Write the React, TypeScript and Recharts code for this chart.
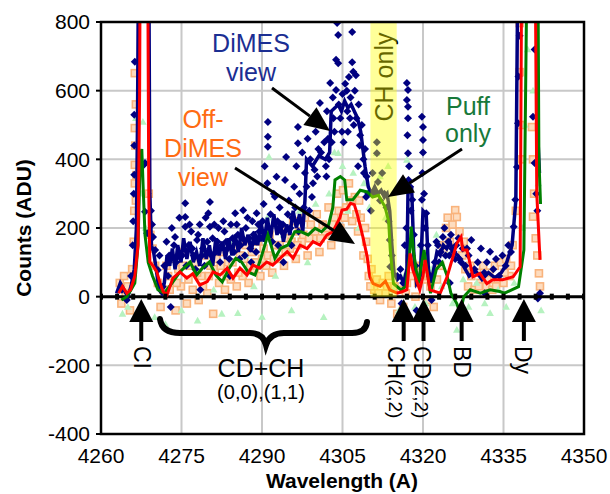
import React from "react";
import { CartesianGrid, ComposedChart, Line, Scatter, XAxis, YAxis } from "recharts";

const FONT = "'Liberation Sans', Arial, Helvetica, sans-serif";

const WAVE_TICKS = [4260, 4275, 4290, 4305, 4320, 4335, 4350];
const COUNT_TICKS = [-400, -200, 0, 200, 400, 600, 800];

// markers along the zero line, every 3 A
const ZERO_MARKS = [
  4260, 4263, 4266, 4269, 4272, 4275, 4278, 4281, 4284, 4287, 4290, 4293, 4296,
  4299, 4302, 4305, 4308, 4311, 4314, 4317, 4320, 4323, 4326, 4329, 4332, 4335,
  4338, 4341, 4344, 4347, 4350,
];

// smoothed spectra: [wavelength, counts]
const DIMES_LINE: [number, number][] = [
  [4262.9, 10], [4263.6, 40], [4264.3, 20], [4265.0, 0], [4265.6, 30], [4266.2, 80],
  [4266.6, 200], [4266.8, 500], [4267.0, 1000], [4268.9, 1000], [4269.1, 300],
  [4269.4, 150], [4269.8, 130], [4270.3, 80], [4270.8, 20], [4271.3, 10], [4271.8, 40],
  [4272.3, 120], [4272.8, 90], [4273.3, 140], [4273.8, 80], [4274.3, 150], [4274.9, 100],
  [4275.4, 170], [4276.0, 110], [4276.6, 160], [4277.2, 100], [4277.8, 130], [4278.4, 90],
  [4279.0, 170], [4279.6, 110], [4280.2, 150], [4280.8, 90], [4281.4, 170], [4282.0, 120],
  [4282.6, 160], [4283.2, 110], [4283.8, 170], [4284.4, 120], [4285.0, 180], [4285.6, 130],
  [4286.2, 200], [4286.8, 150], [4287.4, 180], [4288.0, 130], [4288.6, 190], [4289.2, 150],
  [4289.8, 220], [4290.4, 160], [4291.0, 230], [4291.6, 170], [4292.2, 240], [4292.8, 180],
  [4293.4, 220], [4294.0, 160], [4294.6, 210], [4295.2, 180], [4295.8, 250], [4296.4, 200],
  [4297.0, 240], [4297.6, 190], [4298.0, 280], [4298.3, 400], [4299.4, 380], [4300.6, 410],
  [4301.8, 400], [4302.6, 420], [4302.9, 540], [4303.6, 550], [4304.2, 560], [4304.8, 540],
  [4305.4, 570], [4306.0, 550], [4306.6, 560], [4307.2, 540], [4307.8, 520], [4308.4, 480],
  [4309.2, 380], [4309.8, 320], [4310.4, 300], [4311.0, 320], [4311.6, 300], [4312.2, 310],
  [4312.8, 290], [4313.3, 300], [4313.8, 250], [4314.2, 150], [4314.6, 70], [4315.2, 50],
  [4315.8, 60], [4316.4, 40], [4317.0, 80], [4317.2, 300], [4317.9, 310], [4318.3, 120],
  [4318.8, 40], [4319.5, 60], [4320.0, 250], [4320.6, 240], [4321.0, 80], [4321.5, 40],
  [4322.0, 80], [4322.6, 130], [4323.2, 120], [4323.8, 150], [4324.4, 140], [4325.0, 160],
  [4325.6, 130], [4326.5, 120], [4327.5, 90], [4328.6, 60], [4329.8, 75], [4331.0, 50],
  [4332.2, 70], [4333.4, 55], [4334.6, 70], [4335.4, 90], [4336.6, 150], [4337.3, 280],
  [4337.7, 1000], [4341.1, 1000], [4341.3, 500], [4341.7, 360],
];

const OFF_DIMES_LINE: [number, number][] = [
  [4263.3, 10], [4264.0, 30], [4264.8, 10], [4265.5, 20], [4266.3, 60], [4266.9, 150],
  [4267.2, 600], [4267.3, 1000], [4268.7, 1000], [4268.9, 300], [4269.1, 101], [4269.7, 90],
  [4270.4, 72], [4271.0, 40], [4271.6, 14], [4272.3, 5], [4273.4, 54], [4274.7, 72],
  [4276.0, 54], [4277.1, 67], [4278.4, 34], [4279.8, 44], [4280.9, 72], [4282.2, 63],
  [4283.5, 83], [4284.6, 54], [4285.9, 83], [4287.2, 63], [4288.3, 92], [4289.6, 83],
  [4290.9, 101], [4292.0, 92], [4293.4, 112], [4294.7, 131], [4295.8, 112], [4297.1, 150],
  [4298.4, 140], [4299.5, 160], [4300.8, 150], [4302.1, 180], [4303.2, 189], [4304.5, 229],
  [4304.9, 252], [4305.8, 255], [4306.5, 272], [4307.2, 268], [4307.7, 243], [4308.8, 174],
  [4309.6, 116], [4310.1, 58], [4310.7, 38], [4312.0, 30], [4313.0, 45], [4313.8, 20],
  [4315.2, 10], [4316.2, 15], [4317.0, 20], [4317.6, 126], [4318.1, 78], [4319.4, 20],
  [4320.0, 60], [4320.4, 107], [4321.3, 20], [4323.2, 10], [4324.5, 58], [4326.3, 155],
  [4327.1, 174], [4327.4, 136], [4328.2, 136], [4329.3, 58], [4330.6, 68], [4331.9, 38],
  [4333.0, 49], [4334.8, 49], [4336.8, 58], [4338.1, 87], [4338.4, 1000], [4340.9, 1000],
  [4341.2, 300], [4341.8, 107],
];

const PUFF_LINE: [number, number][] = [
  [4263.8, -10], [4264.8, 0], [4265.6, 20], [4266.3, 40], [4266.9, 150], [4267.3, 400],
  [4267.6, 430], [4267.9, 300], [4268.2, 180], [4268.8, 100], [4269.6, 60], [4270.6, 20],
  [4271.8, 10], [4273.4, 43], [4274.7, 72], [4276.0, 92], [4276.6, 101], [4277.8, 63],
  [4278.9, 83], [4280.2, 101], [4281.4, 63], [4282.6, 43], [4283.9, 83], [4285.1, 112],
  [4286.2, 101], [4287.4, 72], [4288.7, 63], [4289.8, 112], [4291.1, 180], [4292.4, 112],
  [4293.5, 141], [4294.8, 150], [4296.1, 189], [4297.3, 189], [4298.6, 180], [4299.9, 199],
  [4301.1, 189], [4302.4, 209], [4303.2, 260], [4303.6, 340], [4304.6, 350], [4305.4, 340],
  [4305.8, 282], [4306.9, 282], [4308.3, 310], [4309.6, 305], [4310.6, 290], [4311.7, 295],
  [4312.9, 262], [4313.6, 220], [4313.9, 136], [4314.5, 38], [4315.9, 20], [4316.8, 30],
  [4317.5, 120], [4317.8, 204], [4318.2, 136], [4319.1, 38], [4320.2, 136], [4320.7, 80],
  [4321.4, 10], [4322.5, 80], [4323.6, 100], [4324.5, 60], [4325.2, 10], [4326.3, -20],
  [4326.9, -48], [4327.6, 0], [4328.8, 20], [4330.7, 10], [4332.5, 20], [4334.3, 15],
  [4335.2, 10], [4337.8, 29], [4338.8, 136], [4339.4, 1000], [4341.4, 1000], [4341.6, 400],
  [4341.9, 270],
];

// raw points
const DIMES_RAW: [number, number][] = [
  [4266.3, 684], [4266.2, 530], [4266.2, 440], [4266.2, 355], [4266.1, 300], [4266.0, 220],
  [4265.9, 150], [4265.6, 60], [4268.0, 384], [4268.2, 389], [4268.2, 247], [4268.6, 185],
  [4269.7, 174], [4270.1, 136], [4270.6, 78], [4271.5, 29], [4264.8, -10], [4263.9, 20],
  [4269.3, 250], [4269.5, 210], [4270.9, 120], [4271.8, 90], [4272.5, 60],
  [4272.2, 160], [4272.7, 120], [4273.2, 200], [4273.8, 174], [4274.3, 116], [4274.6, 230],
  [4275.7, 272], [4275.7, 232], [4275.7, 204], [4276.3, 150], [4276.8, 190], [4277.3, 120],
  [4277.9, 165], [4278.4, 210], [4279.0, 140], [4279.5, 230], [4280.3, 276], [4280.0, 243],
  [4280.3, 204], [4280.8, 170], [4281.4, 130], [4281.9, 200], [4282.5, 150], [4283.0, 190],
  [4283.6, 140], [4284.2, 210], [4285.0, 243], [4285.5, 180], [4286.0, 150], [4286.5, 252],
  [4287.0, 200], [4287.6, 170], [4288.2, 220], [4288.7, 160], [4289.0, 243], [4289.5, 190],
  [4273.0, -30], [4278.5, 20], [4284.0, 60], [4288.0, 100],
  [4273.6, 150], [4274.0, 100], [4275.1, 120], [4275.9, 90], [4276.5, 210], [4277.0, 140],
  [4277.6, 80], [4278.1, 180], [4278.8, 120], [4279.3, 90], [4279.8, 160], [4280.6, 120],
  [4281.1, 210], [4281.7, 160], [4282.2, 100], [4282.8, 220], [4283.3, 160], [4283.9, 110],
  [4284.5, 170], [4284.8, 130], [4285.3, 210], [4285.8, 110], [4286.3, 170], [4286.8, 120],
  [4287.3, 230], [4287.8, 140], [4288.4, 180], [4288.9, 130], [4289.3, 210], [4289.8, 170],
  [4291.1, 509], [4291.1, 466], [4291.1, 437], [4290.5, 380], [4291.0, 330], [4290.3, 270],
  [4291.6, 240], [4292.2, 300], [4292.7, 349], [4292.4, 291], [4293.3, 260], [4293.9, 210],
  [4294.5, 407], [4294.3, 340], [4295.0, 280], [4295.6, 230], [4296.7, 494], [4296.7, 447],
  [4296.0, 320], [4296.4, 380], [4297.0, 300], [4297.5, 420], [4298.0, 360], [4298.5, 460],
  [4299.0, 400], [4299.5, 330], [4300.0, 480], [4300.5, 430], [4300.8, 564], [4293.0, 150],
  [4295.5, 150], [4298.8, 250], [4294.0, 100], [4296.8, 190],
  [4290.1, 220], [4290.7, 180], [4291.3, 200], [4291.9, 160], [4292.9, 220], [4293.6, 190],
  [4294.8, 240], [4295.3, 200], [4296.2, 260], [4297.2, 220], [4297.8, 260], [4298.3, 320],
  [4299.3, 290], [4299.8, 370], [4300.3, 350], [4301.0, 420], [4301.9, 380], [4302.3, 460],
  [4301.3, 500], [4301.6, 450], [4302.1, 540], [4302.7, 622], [4302.5, 400], [4303.2, 580],
  [4303.5, 480], [4303.8, 690], [4303.8, 602], [4304.0, 797], [4304.2, 762], [4304.2, 680],
  [4304.3, 560], [4304.6, 520], [4305.0, 590], [4305.2, 450], [4305.5, 620], [4305.9, 540],
  [4306.2, 640], [4306.5, 580], [4306.8, 771], [4306.8, 683], [4307.0, 655], [4307.3, 600],
  [4307.5, 645], [4307.6, 520], [4308.0, 560], [4308.3, 470], [4308.6, 500], [4308.9, 400],
  [4309.2, 430], [4309.5, 350], [4309.8, 300], [4303.0, 450], [4302.0, 350], [4306.0, 480],
  [4307.9, 380], [4303.3, 520], [4304.9, 480], [4305.8, 600], [4306.4, 520], [4307.1, 500],
  [4308.2, 440], [4309.0, 360], [4309.4, 290],
  [4310.6, 360], [4311.0, 300], [4311.4, 450], [4311.4, 418], [4311.6, 334], [4312.0, 280],
  [4312.4, 360], [4312.8, 300], [4313.2, 260], [4313.6, 220], [4313.8, 165], [4313.9, 87],
  [4314.2, 120], [4310.3, 250],
  [4315.2, 60], [4315.8, 80], [4316.3, 40], [4316.6, 150], [4317.0, 622], [4317.2, 602],
  [4317.0, 573], [4317.2, 553], [4317.2, 520], [4317.2, 418], [4317.3, 340], [4317.6, 320],
  [4318.0, 282], [4318.3, 180], [4318.6, 90], [4319.2, 50], [4319.8, 524], [4320.0, 494],
  [4320.0, 456], [4320.0, 420], [4319.8, 282], [4320.6, 243], [4320.9, 150], [4321.3, 60],
  [4316.0, -20], [4318.8, -40], [4321.6, -10], [4316.9, 200], [4317.1, 470], [4317.4, 380],
  [4317.7, 250], [4319.9, 360], [4320.2, 300], [4320.4, 200], [4319.6, 150],
  [4322.2, 100], [4322.8, 150], [4323.3, 130], [4323.7, 174], [4324.2, 120], [4324.7, 160],
  [4325.2, 180], [4325.7, 130], [4326.2, 150], [4326.8, 110], [4327.4, 140], [4327.9, 90],
  [4328.5, 120], [4329.0, 165], [4329.6, 80], [4330.2, 100], [4330.8, 140], [4331.4, 70],
  [4331.9, 100], [4332.5, 131], [4333.1, 80], [4333.6, 110], [4334.2, 60], [4334.8, 120],
  [4335.4, 90], [4335.9, 150], [4336.4, 130], [4336.9, 204], [4337.2, 282], [4337.5, 378],
  [4337.7, 505], [4337.8, 641], [4338.0, 760], [4325.0, 40], [4331.5, 10], [4341.8, 10],
  [4322.5, 160], [4323.0, 100], [4324.0, 200], [4324.9, 120], [4325.4, 140], [4326.0, 110],
  [4326.6, 170], [4327.1, 100], [4328.2, 140],
  [4340.5, 524], [4340.8, 389], [4341.1, 300], [4341.3, 250], [4340.8, 720], [4341.4, -5],
];

const OFF_DIMES_RAW: [number, number][] = [
  [4263.5, 40], [4263.8, -20], [4264.3, 60], [4264.6, 0], [4265.0, 30], [4265.4, -40],
  [4265.8, 80], [4266.3, 651], [4266.3, 491], [4266.3, 384], [4266.6, 354], [4266.3, 330],
  [4266.2, 250], [4266.1, 160], [4268.9, 300], [4269.2, 180], [4269.6, 140], [4270.1, 90],
  [4270.6, 40], [4271.1, -30], [4271.6, 20], [4266.5, 560], [4266.4, 440], [4266.5, 280],
  [4272.2, 90], [4272.8, 20], [4273.3, 110], [4273.9, -40], [4274.4, 80], [4274.9, 30],
  [4275.5, 130], [4276.0, -20], [4276.6, 90], [4277.1, 20], [4277.6, 100], [4278.2, -10],
  [4278.7, 60], [4279.3, 120], [4279.8, 10], [4280.4, 90], [4280.9, -50], [4281.5, 110],
  [4282.0, 40], [4282.6, 130], [4283.1, 20], [4283.7, 100], [4284.2, 50], [4284.8, 140],
  [4285.3, 30], [4285.9, 120], [4286.4, 60], [4287.0, 150], [4287.5, 40], [4288.1, 130],
  [4288.6, 80], [4289.2, 160], [4289.7, 60], [4290.3, 140], [4290.8, 90], [4291.4, 180],
  [4291.9, 70], [4292.5, 150], [4293.0, 110], [4293.6, 200], [4294.1, 90], [4294.7, 170],
  [4295.2, 140], [4295.8, 220], [4296.3, 110], [4296.9, 190], [4297.4, 160], [4298.0, 230],
  [4298.5, 120], [4299.1, 210], [4299.6, 170], [4300.2, 240], [4300.7, 130], [4301.3, 210],
  [4301.8, 180], [4302.4, 260], [4302.9, 150], [4303.5, 230], [4304.0, 300], [4304.6, 200],
  [4305.1, 310], [4305.7, 260], [4306.2, 330], [4306.8, 220], [4307.3, 290], [4307.9, 190],
  [4308.4, 230], [4308.9, 120], [4309.4, 160], [4309.9, 60], [4310.4, 80], [4310.9, 20],
  [4311.4, 50], [4312.0, -10], [4312.5, 40], [4313.0, 10], [4313.6, 60], [4314.1, -20],
  [4314.7, 30], [4315.2, -50], [4315.8, 20], [4316.3, -30], [4317.0, 40], [4317.5, 110],
  [4318.0, 60], [4318.6, 0], [4319.1, 40], [4319.7, 90], [4320.2, 50], [4320.8, -10],
  [4321.4, 30], [4322.0, -30], [4322.6, 50], [4323.2, 90], [4323.8, 130], [4324.3, 200],
  [4324.6, 230], [4325.0, 160], [4326.0, 252], [4326.3, 232], [4326.8, 190], [4327.3, 120],
  [4327.9, 80], [4328.4, 30], [4329.0, 60], [4329.6, 20], [4330.1, 70], [4330.7, 40],
  [4331.2, 90], [4331.8, 30], [4332.3, 70], [4332.9, 20], [4333.4, 90], [4333.9, 50],
  [4334.5, 100], [4335.0, 40], [4335.5, 110], [4336.1, 60], [4336.7, 150], [4337.3, 250],
  [4338.0, 797], [4338.0, 654], [4338.2, 500], [4338.4, 400], [4340.3, 494], [4340.5, 400],
  [4340.7, 300], [4340.5, 233], [4341.0, 170], [4341.3, 120], [4341.6, 68], [4341.8, 30],
  [4272.5, 60], [4274.1, 40], [4275.2, 90], [4276.3, 50], [4277.9, 70], [4279.0, 30],
  [4280.1, 60], [4281.2, 80], [4282.3, 90], [4283.4, 60], [4284.5, 100], [4285.6, 70],
  [4286.7, 110], [4287.8, 90], [4288.9, 100], [4290.0, 110], [4291.1, 120], [4292.2, 110],
  [4293.3, 150], [4294.4, 130], [4295.5, 160], [4296.6, 150], [4297.7, 180], [4298.8, 170],
  [4299.9, 190], [4300.9, 170], [4302.0, 200], [4303.1, 210], [4304.3, 250], [4305.4, 230],
  [4306.5, 280], [4307.6, 240], [4308.1, 280], [4309.2, 200], [4309.7, 110], [4310.2, 30],
  [4311.7, 10], [4313.3, 30], [4316.8, 10], [4319.3, 70], [4321.0, 60], [4324.0, 150],
  [4325.5, 210], [4327.6, 160], [4328.8, 90], [4330.4, 30], [4332.0, 50], [4333.6, 30],
  [4335.2, 70], [4336.4, 90],
];

const PUFF_RAW: [number, number][] = [
  [4264.0, -50], [4265.0, -30], [4266.5, 520], [4267.8, 509], [4267.5, 300], [4268.3, 200],
  [4270.0, -60], [4272.0, -80], [4273.5, 110], [4275.0, -40], [4276.5, 150], [4278.0, -70],
  [4279.5, 130], [4281.0, 20], [4282.5, -50], [4284.0, 160], [4285.5, -48], [4287.0, 120],
  [4288.5, 30], [4290.0, -59], [4291.0, 230], [4291.3, 407], [4292.5, 60], [4294.0, 180],
  [4295.5, -40], [4297.0, 250], [4298.5, 100], [4300.0, 270], [4301.5, -60], [4302.5, 300],
  [4303.5, 420], [4304.2, 418], [4305.0, 380], [4306.0, 250], [4307.0, 360], [4308.0, 200],
  [4309.0, 330], [4310.0, 260], [4311.4, 418], [4312.0, 350], [4313.0, 230], [4313.5, 380],
  [4314.5, 20], [4315.5, -40], [4316.5, 60], [4317.0, 398], [4317.5, 250], [4318.5, -30],
  [4319.5, 150], [4320.5, -20], [4321.5, 80], [4322.5, 180], [4323.5, 30], [4324.5, 120],
  [4325.5, -20], [4326.3, -97], [4327.5, 50], [4328.5, -30], [4330.0, 40], [4331.5, -20],
  [4332.5, -48], [4334.0, 20], [4335.5, -30], [4337.0, 40], [4338.5, 200], [4339.0, 500],
  [4339.5, 720], [4340.5, 600], [4341.5, 330], [4342.0, -40],
];

const toPoints = (rows: [number, number][]) => rows.map(([x, y]) => ({ x, y }));

// plot box (pixels)
const W = 610;
const H = 494;
const BOX = { left: 101, right: 584, top: 22, bottom: 434 };
const X_MIN = 4260;
const X_MAX = 4350;
const Y_MIN = -400;
const Y_MAX = 800;
const px = (x: number) => BOX.left + ((x - X_MIN) / (X_MAX - X_MIN)) * (BOX.right - BOX.left);
const py = (y: number) => BOX.top + ((Y_MAX - y) / (Y_MAX - Y_MIN)) * (BOX.bottom - BOX.top);

const diamond = (p: any) => (
  <polygon
    points={`${p.cx},${p.cy - 4} ${p.cx + 4},${p.cy} ${p.cx},${p.cy + 4} ${p.cx - 4},${p.cy}`}
    fill="#000080"
  />
);
const square = (p: any) => (
  <rect x={p.cx - 3.5} y={p.cy - 3.5} width={7} height={7} fill="#fddcbf" stroke="#f9b37c" strokeWidth={1.6} />
);
const triangle = (p: any) => (
  <polygon
    points={`${p.cx},${p.cy - 4} ${p.cx + 3.8},${p.cy + 2.8} ${p.cx - 3.8},${p.cy + 2.8}`}
    fill="#b6f2c0"
  />
);
const zeroDot = (p: any) => (
  <rect key={p.index} x={p.cx - 2} y={p.cy - 3} width={4} height={6} fill="#000" />
);

function Arrow({ x1, y1, x2, y2, head = 25, wide = 22, sw = 3 }: any) {
  const len = Math.hypot(x2 - x1, y2 - y1);
  const ux = (x2 - x1) / len;
  const uy = (y2 - y1) / len;
  const bx = x2 - ux * head;
  const by = y2 - uy * head;
  const nx = -uy * (wide / 2);
  const ny = ux * (wide / 2);
  return (
    <g>
      <line x1={x1} y1={y1} x2={bx} y2={by} stroke="#000" strokeWidth={sw} />
      <polygon points={`${x2},${y2} ${bx + nx},${by + ny} ${bx - nx},${by - ny}`} fill="#000" />
    </g>
  );
}

// upward arrows under the zero line, at line wavelengths
const LINE_MARKS = [
  { x: 4267.5, label: "CI", sub: "", lx: 141.5 },
  { x: 4316.4, label: "CH", sub: "(2,2)", lx: 396 },
  { x: 4320.1, label: "CD", sub: "(2,2)", lx: 422 },
  { x: 4327.2, label: "BD", sub: "", lx: 462 },
  { x: 4338.8, label: "Dy", sub: "", lx: 523 },
];

function Annotations() {
  const bandL = px(4310.2);
  const bandR = px(4315.1);
  return (
    <svg
      width={W}
      height={H}
      style={{ position: "absolute", left: 0, top: 0, pointerEvents: "none" }}
      fontFamily={FONT}
    >
      <text
        x={384}
        y={77}
        transform="rotate(-90 384 77)"
        textAnchor="middle"
        dominantBaseline="central"
        fontSize={25}
        fill="#000"
      >
        CH only
      </text>
      <rect x={bandL} y={py(800)} width={bandR - bandL} height={py(0) - py(800)} fill="#ffff00" opacity={0.4} />

      <rect
        x={BOX.left}
        y={BOX.top}
        width={BOX.right - BOX.left}
        height={BOX.bottom - BOX.top}
        fill="none"
        stroke="#000"
        strokeWidth={2.5}
      />

      <text x={23} y={228} transform="rotate(-90 23 228)" textAnchor="middle" dominantBaseline="central" fontSize={21} fontWeight="bold">
        Counts (ADU)
      </text>
      <text x={342} y={488} textAnchor="middle" fontSize={21} fontWeight="bold">
        Wavelength (A)
      </text>

      <g fontSize={25} textAnchor="middle">
        <text x={251} y={52} fill="#1b2e92">DiMES</text>
        <text x={251} y={81} fill="#1b2e92">view</text>
        <text x={203} y={128} fill="#ff6b12">Off-</text>
        <text x={203} y={157} fill="#ff6b12">DiMES</text>
        <text x={203} y={186} fill="#ff6b12">view</text>
        <text x={468} y={115} fill="#18793a">Puff</text>
        <text x={468} y={142} fill="#18793a">only</text>
      </g>

      <Arrow x1={272} y1={88} x2={330} y2={131} />
      <Arrow x1={235} y1={168} x2={355} y2={244} />
      <Arrow x1={462} y1={149} x2={388} y2={197} />

      {LINE_MARKS.map((m) => (
        <g key={m.label + m.sub}>
          <Arrow x1={px(m.x)} y1={341} x2={px(m.x)} y2={299} head={23} wide={24} sw={4} />
          <text transform={`translate(${m.lx},346) rotate(90)`} dominantBaseline="central" fontSize={23}>
            {m.label}
            {m.sub ? <tspan fontSize={19}>{m.sub}</tspan> : null}
          </text>
        </g>
      ))}

      <path
        d="M160,319 Q162,333 180,333 L250,333 Q263,333 266,345 Q270,333 284,333 L352,333 Q366,333 367,322"
        fill="none"
        stroke="#000"
        strokeWidth={6}
        strokeLinecap="round"
      />
      <text x={261} y={377} textAnchor="middle" fontSize={25}>CD+CH</text>
      <text x={261} y={399} textAnchor="middle" fontSize={20}>(0,0),(1,1)</text>
    </svg>
  );
}

const layer: React.CSSProperties = { position: "absolute", left: 0, top: 0 };

export default function App() {
  return (
    <div style={{ position: "absolute", left: 0, top: 0, width: W, height: H, background: "#fff" }}>
      {/* bottom layer: grid, axes, raw points */}
      <div style={layer}>
        <ComposedChart
          width={W}
          height={H}
          margin={{ top: BOX.top, right: W - BOX.right, bottom: 30, left: 0 }}
          style={{ fontFamily: FONT }}
        >
          <CartesianGrid stroke="#c8c8c8" strokeWidth={2} />
          <XAxis
            dataKey="x"
            type="number"
            domain={[X_MIN, X_MAX]}
            ticks={WAVE_TICKS}
            allowDataOverflow
            height={30}
            tickLine={false}
            tickSize={5}
            tickMargin={9}
            axisLine={{ stroke: "#000", strokeWidth: 2 }}
            tick={{ fontSize: 21, fill: "#000" }}
            interval={0}
          />
          <YAxis
            dataKey="y"
            type="number"
            domain={[Y_MIN, Y_MAX]}
            ticks={COUNT_TICKS}
            allowDataOverflow
            width={BOX.left}
            tickSize={5}
            tickMargin={6}
            tickLine={{ stroke: "#000", strokeWidth: 2 }}
            axisLine={{ stroke: "#000", strokeWidth: 2 }}
            tick={{ fontSize: 21, fill: "#000" }}
            interval={0}
          />
          <Scatter data={toPoints(OFF_DIMES_RAW)} dataKey="y" shape={square} isAnimationActive={false} />
          <Scatter data={toPoints(PUFF_RAW)} dataKey="y" shape={triangle} isAnimationActive={false} />
          <Scatter data={toPoints(DIMES_RAW)} dataKey="y" shape={diamond} isAnimationActive={false} />
        </ComposedChart>
      </div>
      {/* top layer: smoothed spectra and the zero line, same scales */}
      <div style={layer}>
        <ComposedChart
          width={W}
          height={H}
          margin={{ top: BOX.top, right: W - BOX.right, bottom: H - BOX.bottom, left: BOX.left }}
        >
          <XAxis dataKey="x" type="number" domain={[X_MIN, X_MAX]} allowDataOverflow hide />
          <YAxis dataKey="y" type="number" domain={[Y_MIN, Y_MAX]} allowDataOverflow hide />
          <Line
            data={ZERO_MARKS.map((x) => ({ x, y: 0 }))}
            dataKey="y"
            stroke="#000"
            strokeWidth={3}
            dot={zeroDot}
            isAnimationActive={false}
          />
          <Line data={toPoints(DIMES_LINE)} dataKey="y" stroke="#000080" strokeWidth={3.5} dot={false} isAnimationActive={false} />
          <Line data={toPoints(PUFF_LINE)} dataKey="y" stroke="#008000" strokeWidth={3} dot={false} isAnimationActive={false} />
          <Line data={toPoints(OFF_DIMES_LINE)} dataKey="y" stroke="#ff0000" strokeWidth={3} dot={false} isAnimationActive={false} />
        </ComposedChart>
      </div>
      <Annotations />
    </div>
  );
}
